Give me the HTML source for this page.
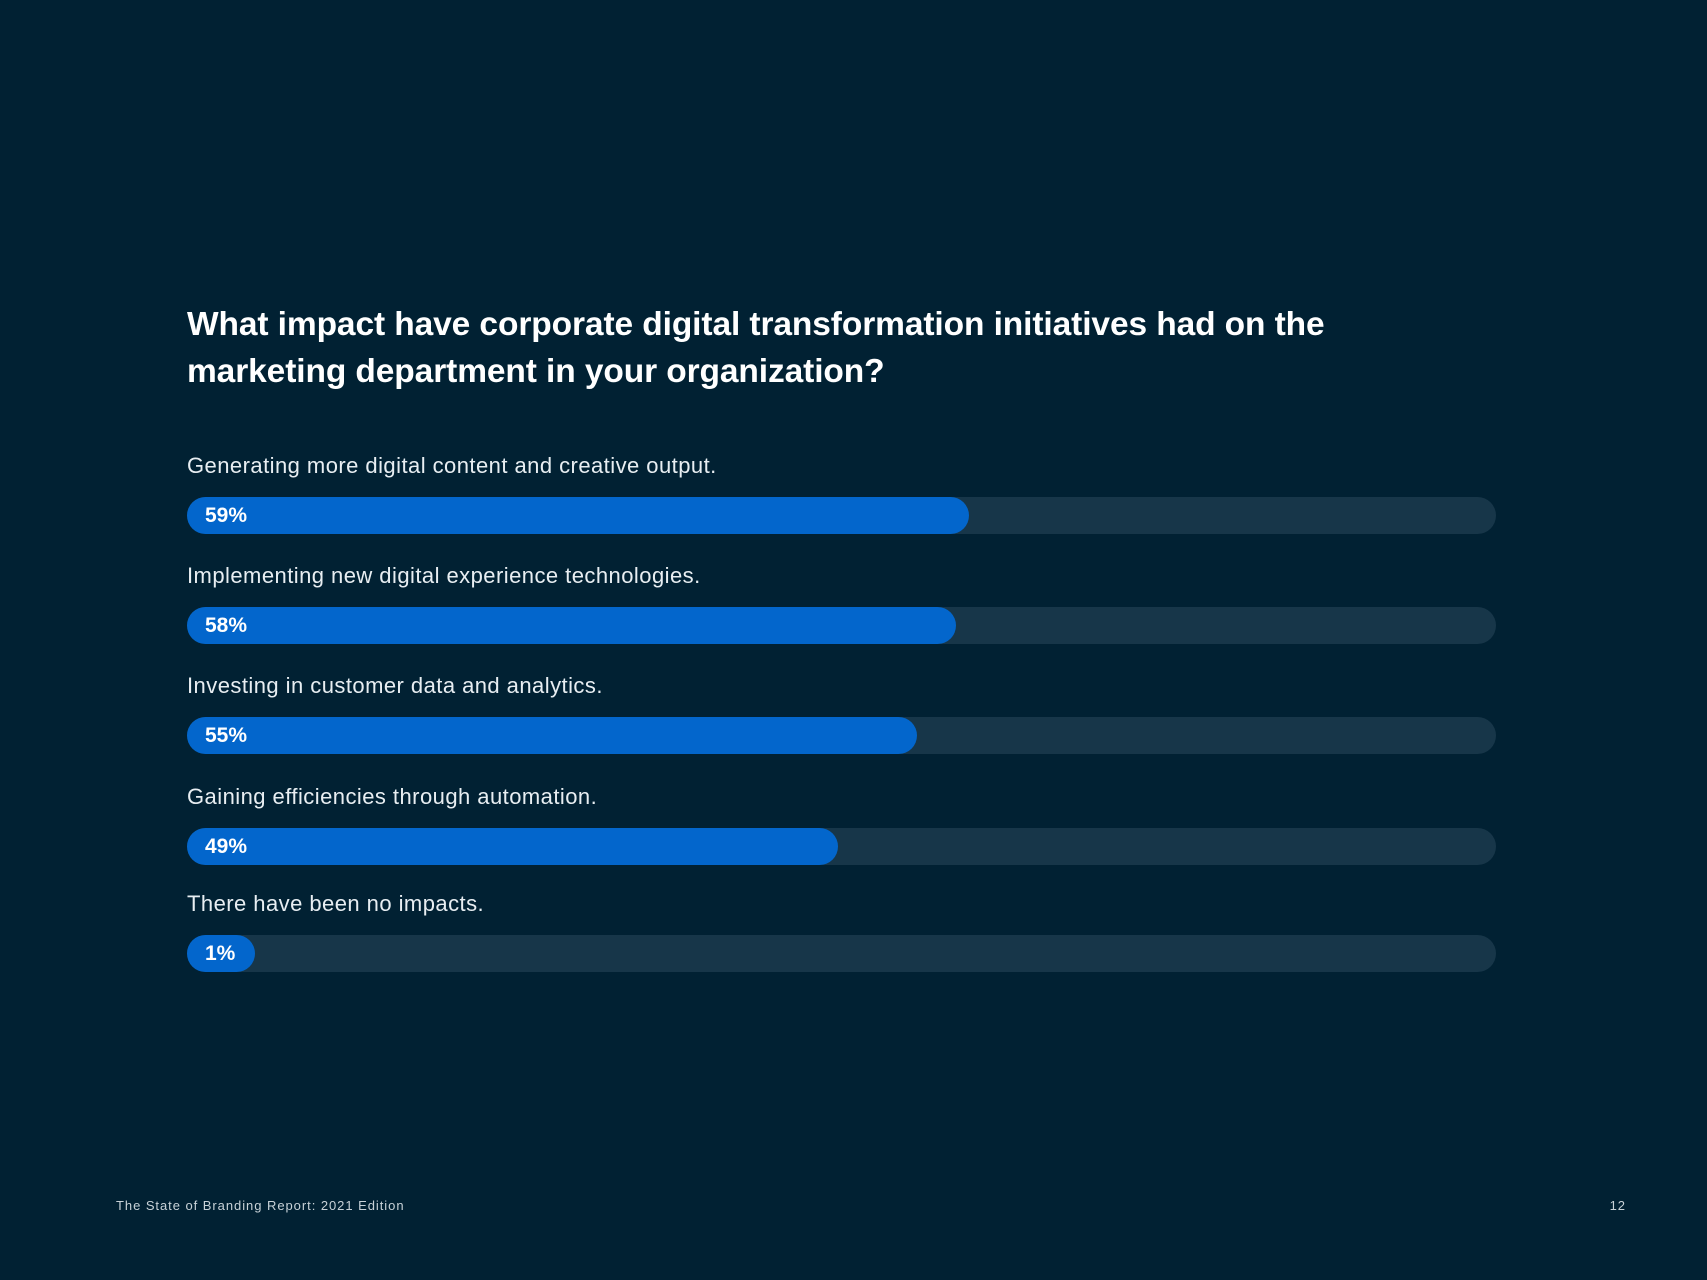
<!DOCTYPE html>
<html><head><meta charset="utf-8"><style>
body{margin:0;width:1707px;height:1280px;background:#012133;overflow:hidden;font-family:"Liberation Sans",sans-serif;color:#fff;position:relative}
.t{position:absolute;left:187px;top:301px;font-size:33.5px;font-weight:bold;line-height:47px;letter-spacing:-0.1px}
.lab{position:absolute;left:187px;font-size:22px;color:#e8eef2;white-space:nowrap;letter-spacing:0.45px}
.track{position:absolute;left:187px;width:1309px;height:37px;border-radius:18.5px;background:#173649}
.fill{position:absolute;left:0;top:0;height:37px;border-radius:18.5px;background:#0366cc}
.pct{position:absolute;left:18px;top:0;line-height:38px;font-size:21px;font-weight:bold}
.foot{position:absolute;top:1198px;font-size:13px;color:#c8d2d8;letter-spacing:0.95px}
</style></head><body>
<div class="t">What impact have corporate digital transformation initiatives had on the<br>marketing department in your organization?</div>
<div id="chart"></div>
<div class="foot" style="left:116px">The State of Branding Report: 2021 Edition</div>
<div class="foot" style="right:81px">12</div>
<script>
const categories=["Generating more digital content and creative output.","Implementing new digital experience technologies.","Investing in customer data and analytics.","Gaining efficiencies through automation.","There have been no impacts."];
const values=[59,58,55,49,1];
const valueLabels=["59%","58%","55%","49%","1%"];
const W=1309;
function xScale(v){return Math.max(68,v/100*W+10);}
const chart=document.getElementById('chart');
const barTops=[497,607,717,828,935];
categories.forEach((c,i)=>{
  const top=barTops[i];
  const l=document.createElement('div');l.className='lab';l.style.top=(top-44)+'px';l.textContent=c;
  
  
  chart.appendChild(l);
  const t=document.createElement('div');t.className='track';t.style.top=top+'px';
  
  
  const f=document.createElement('div');f.className='fill';f.style.width=xScale(values[i])+'px';
  
  
  const p=document.createElement('div');p.className='pct';p.textContent=valueLabels[i];
  
  
  f.appendChild(p);t.appendChild(f);chart.appendChild(t);
});
</script>
</body></html>
